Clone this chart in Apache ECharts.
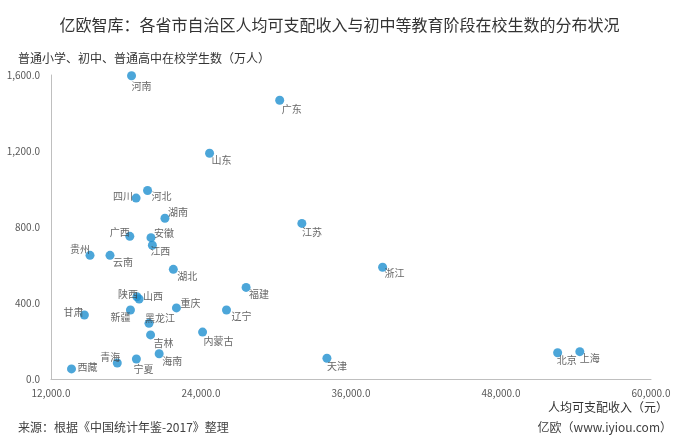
<!DOCTYPE html>
<html>
<head>
<meta charset="utf-8">
<script src="https://cdn.jsdelivr.net/npm/echarts@6/dist/echarts.min.js"></script>
<style>
html,body{margin:0;padding:0;background:#fff;}
#chart{width:679px;height:445px;}
</style>
</head>
<body>
<div id="chart"></div>
<script>
// ---- data ----
const provinces = ['河南','广东','山东','河北','四川','湖南','广西','安徽','江西','贵州','云南','湖北','福建','陕西','山西','甘肃','新疆','重庆','辽宁','黑龙江','吉林','内蒙古','海南','宁夏','青海','西藏','江苏','浙江','天津','北京','上海'];
const income   = [18443,30296,24685,19725,18808,21115,18305,19998,20110,15121,16720,21787,27608,18874,19049,14670,18355,22034,26040,19838,19967,24127,20653,18832,17302,13639,32070,38529,34074,52530,54305];
const students = [1596,1467,1188,992,952,846,751,744,704,651,651,577,482,433,421,337,363,374,363,293,232,247,133,105,84,53,819,588,109,138,144];
const xTicks = [12000,24000,36000,48000,60000];
const yTicks = [0,400,800,1200,1600];

// ---- label placement (style config) ----
const labelPlace = {
  '河南':['l',0,10],'广东':['l',2,9],'山东':['l',2,7],'河北':['l',4,6],'四川':['r',-3,-2],
  '湖南':['l',3,-6],'广西':['r',0,-4],'安徽':['l',3,-4],'江西':['l',-2,6],'贵州':['r',0,-6],
  '云南':['l',3,7],'湖北':['l',4,7],'福建':['l',3,7],'陕西':['r',1,-3],'山西':['l',4,-3],
  '甘肃':['r',-1,-3],'新疆':['r',0,7],'重庆':['l',4,-5],'辽宁':['l',5,6],'黑龙江':['l',-4,-5],
  '吉林':['l',3,8],'内蒙古':['l',1,9],'海南':['l',3,7],'宁夏':['l',-3,10],'青海':['r',3,-6],
  '西藏':['l',6,-2],'江苏':['l',0,9],'浙江':['l',2,6],'天津':['l',0,8],'北京':['l',-1,7],'上海':['l',0,7]
};

const fmt = v => Number(v).toLocaleString('en-US',{minimumFractionDigits:1,maximumFractionDigits:1});

const points = provinces.map((p,i)=>{
  const lp = labelPlace[p];
  return {
    name:p,
    value:[income[i],students[i]],
    label:{
      align: lp[0]==='l'?'left':'right',
      offset:[lp[1],lp[2]]
    }
  };
});

const chart = echarts.init(document.getElementById('chart'));
chart.setOption({
  backgroundColor:'#fff',
  animation:false,
  title:{
    text:'亿欧智库：各省市自治区人均可支配收入与初中等教育阶段在校生数的分布状况',
    left:'center', top:12,
    textStyle:{fontSize:16,fontWeight:'normal',color:'#333',fontFamily:'Noto Sans CJK SC'}
  },
  grid:{left:51,right:28,top:75,bottom:66,containLabel:false},
  xAxis:{
    type:'value',
    min:xTicks[0], max:xTicks[xTicks.length-1], interval:12000,
    axisLine:{show:true,lineStyle:{color:'#bfbfbf',width:1}},
    axisTick:{show:false},
    splitLine:{show:false},
    axisLabel:{formatter:fmt,fontSize:10,color:'#595959',margin:9,fontFamily:'Noto Sans CJK SC'}
  },
  yAxis:{
    type:'value',
    min:yTicks[0], max:yTicks[yTicks.length-1], interval:400,
    axisLine:{show:true,lineStyle:{color:'#bfbfbf',width:1}},
    axisTick:{show:false},
    splitLine:{show:false},
    axisLabel:{formatter:fmt,fontSize:10,color:'#595959',margin:11,fontFamily:'Noto Sans CJK SC'}
  },
  graphic:[
    {type:'text',left:18,top:52,style:{text:'普通小学、初中、普通高中在校学生数（万人）',fontSize:12,fill:'#333',fontFamily:'Noto Sans CJK SC'}},
    {type:'text',right:11,top:401,style:{text:'人均可支配收入（元）',fontSize:12,fill:'#333',fontFamily:'Noto Sans CJK SC'}},
    {type:'text',left:18,top:421,style:{text:'来源：根据《中国统计年鉴-2017》整理',fontSize:12,fill:'#404040',fontFamily:'Noto Sans CJK SC'}},
    {type:'text',right:7,top:421,style:{text:'亿欧（www.iyiou.com）',fontSize:12,fill:'#404040',fontFamily:'Noto Sans CJK SC'}}
  ],
  series:[{
    type:'scatter',
    symbolSize:9,
    itemStyle:{color:'#1f90d0'},
    label:{
      show:true, position:'inside', verticalAlign:'middle',
      formatter:p=>p.name, fontSize:10, color:'#404040',
      fontFamily:'Noto Sans CJK SC'
    },
    data:points
  }]
});
</script>
</body>
</html>
